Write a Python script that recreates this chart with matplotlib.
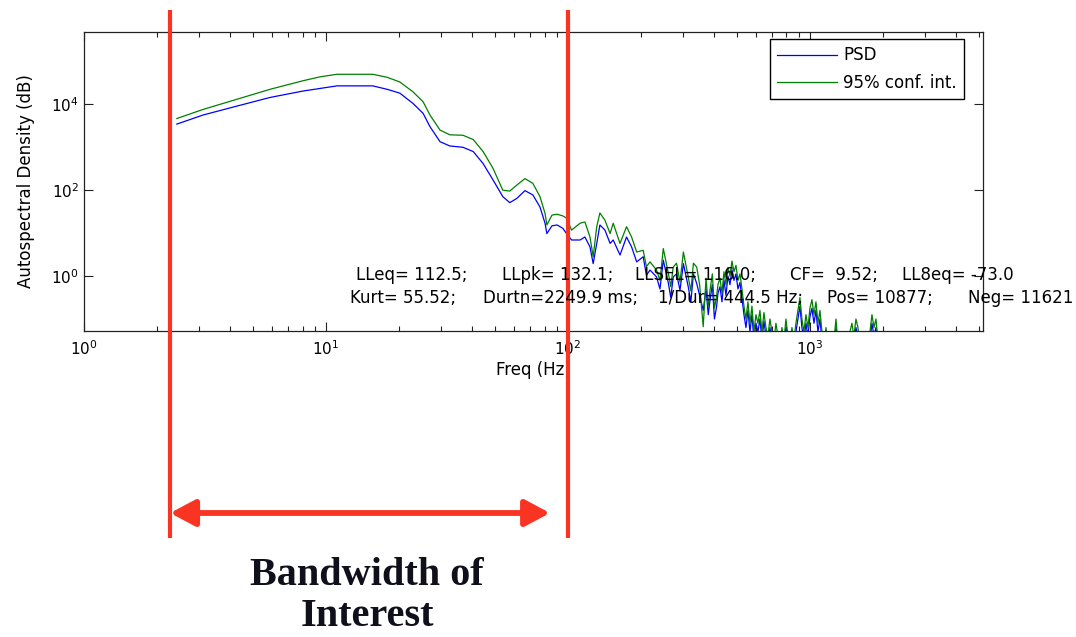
import matplotlib.pyplot as plt
import matplotlib.transforms as mtransforms
from matplotlib.lines import Line2D
from matplotlib.patches import FancyArrowPatch
import numpy as np

# frequency points (Hz)
freq = [2.42, 3.10, 4.29, 5.87, 8.04, 9.44, 11.1, 13.8, 15.6, 17.9,
        20.2, 22.9, 25.2, 26.9, 29.6, 32.5, 36.8, 40.6, 44.6, 49.0,
        53.8, 57.5, 61.5, 66.4, 71.6, 76.6, 80.4, 81.8, 85.9, 90.2,
        95.3, 98.6, 103.5, 112.2, 117.5, 123.3, 127.1, 131.5, 135.5, 142.2,
        149.3, 153.8, 164.1, 174.6, 183.2,
        192.3, 204.6, 211.0, 218.3, 232.3, 240.0, 247.7, 260.0, 266.0, 272.3,
        281.0, 290.4, 299.9, 314.1, 322.0, 330.0, 340.4, 350.0, 362.2, 372.0,
        380.0, 386.4, 395.0, 403.0, 411.1,
        416.8, 424.8, 433.0, 441.3, 449.7, 458.4, 467.1, 476.1, 485.3, 494.6,
        504.1, 513.8, 523.6, 533.7, 543.9, 554.4, 565.0, 575.9, 586.9, 598.2,
        609.7, 621.4, 633.3, 645.5, 657.9, 670.5, 683.4, 696.5, 709.9, 723.5,
        737.4, 751.6, 766.0, 780.7, 795.7, 811.0, 826.6, 842.4, 858.6, 875.1,
        891.9, 909.1, 926.5, 944.3, 962.5, 980.9, 1000, 1019, 1039, 1059,
        1079, 1100, 1121, 1143, 1165, 1187, 1209, 1257, 1281, 1306,
        1356, 1435, 1491, 1520, 1549, 1579, 1609, 1703, 1770, 1804,
        1839, 1874, 1910, 1947]

# PSD level, log10 exponent
psd_exp = [3.54, 3.75, 3.96, 4.16, 4.31, 4.37, 4.43, 4.43, 4.43, 4.35,
           4.26, 4.02, 3.79, 3.48, 3.13, 3.03, 3.00, 2.90, 2.62, 2.24,
           1.85, 1.71, 1.81, 1.99, 1.89, 1.61, 1.23, 0.99, 1.17, 1.19,
           1.11, 0.99, 0.84, 0.84, 0.91, 0.68, 0.29, 0.76, 1.19, 1.07,
           0.76, 0.84, 0.49, 0.91, 0.68,
           0.33, 0.45, 0.02, 0.14, -0.02, -0.30, 0.37, -0.17, -0.50, -0.02,
           0.05, -0.33, 0.29, -0.25, -0.60, 0.05, -0.17, -0.45, -0.80, -0.30,
           -0.90, -0.56, -0.20, -1.00, -0.72,
           -0.40, -0.25, -0.60, -0.10, -0.45, 0.00, -0.20, 0.15, -0.10, 0.05,
           -0.30, -0.15, -0.50, -0.90, -1.20, -0.80, -1.30, -0.90, -1.50, -1.10,
           -1.30, -1.00, -1.50, -1.05, -1.40, -1.60, -1.20, -1.50, -1.70, -1.30,
           -1.60, -1.80, -1.40, -1.70, -1.20, -1.60, -1.80, -1.40, -1.70, -1.30,
           -1.00, -0.70, -1.20, -1.50, -1.10, -1.40, -0.95, -0.75, -1.10, -0.80,
           -1.30, -1.00, -1.50, -1.80, -1.40, -1.80, -2.00, -1.70, -1.20, -1.80,
           -2.00, -1.70, -1.30, -1.60, -1.20, -1.40, -1.80, -2.00, -1.50, -1.10,
           -1.40, -1.20, -1.70, -2.00]

# upper 95% confidence bound, log10 exponent
conf_exp = [3.67, 3.88, 4.12, 4.35, 4.55, 4.64, 4.70, 4.70, 4.70, 4.63,
            4.52, 4.29, 4.06, 3.75, 3.40, 3.29, 3.28, 3.18, 2.90, 2.51,
            2.00, 1.98, 2.12, 2.27, 2.16, 1.85, 1.46, 1.19, 1.42, 1.44,
            1.40, 1.35, 1.07, 1.23, 1.26, 0.91, 0.45, 1.15, 1.47, 1.30,
            0.99, 1.23, 0.76, 1.15, 0.91,
            0.56, 0.60, 0.22, 0.33, 0.14, -0.10, 0.64, 0.06, -0.25, 0.21,
            0.30, -0.14, 0.56, -0.02, -0.35, 0.30, 0.21, -0.20, -1.18, -0.05,
            -0.70, -0.33, 0.05, -0.75, -0.48,
            -0.20, -0.05, -0.40, 0.10, -0.20, 0.20, 0.00, 0.35, 0.10, 0.25,
            -0.10, 0.05, -0.30, -0.70, -1.00, -0.60, -1.10, -0.70, -1.30, -0.90,
            -1.10, -0.80, -1.30, -0.85, -1.20, -1.40, -1.00, -1.30, -1.50, -1.10,
            -1.40, -1.60, -1.20, -1.50, -1.00, -1.40, -1.60, -1.20, -1.50, -1.10,
            -0.80, -0.50, -1.00, -1.30, -0.90, -1.20, -0.75, -0.55, -0.90, -0.60,
            -1.10, -0.80, -1.30, -1.60, -1.20, -1.60, -1.80, -1.50, -1.00, -1.60,
            -1.80, -1.50, -1.10, -1.40, -1.00, -1.20, -1.60, -1.80, -1.30, -0.90,
            -1.20, -1.00, -1.50, -1.80]

stats_row1 = ["LLeq= 112.5;", "LLpk= 132.1;", "LLSEL= 116.0;", "CF=  9.52;", "LL8eq= -73.0"]
stats_row2 = ["Kurt= 55.52;", "Durtn=2249.9 ms;", "1/Dur= 444.5 Hz;", "Pos= 10877;", "Neg= 11621"]
stats_x1 = [356, 502, 635, 790, 902]
stats_x2 = [350, 483, 658, 827, 968]

band_lo, band_hi = 2.27, 100.0

W, H = 1076, 637
fig = plt.figure(figsize=(W / 100, H / 100), dpi=100)
ax = fig.add_axes([84 / W, 1 - 331 / H, 899 / W, 299 / H])

f = np.array(freq)
ax.plot(f, 10 ** np.array(psd_exp), color='#0000ff', lw=0.9, label='PSD')
ax.plot(f, 10 ** np.array(conf_exp), color='#008000', lw=0.9, label='95% conf. int.')

ax.set_xscale('log')
ax.set_yscale('log')
ax.set_xlim(1, 5190)
ax.set_ylim(10 ** -1.28, 10 ** 5.685)
ax.set_yticks([1, 1e2, 1e4])
ax.yaxis.set_minor_locator(plt.NullLocator())
ax.tick_params(which='both', direction='in', top=True, right=True, labelsize=11, color='#222222')
ax.tick_params(which='major', length=6.5, width=0.8)
ax.tick_params(which='minor', length=3.5, width=0.8)
ax.tick_params(axis='x', pad=6)
for s in ax.spines.values():
    s.set_linewidth(0.9)
    s.set_color('#222222')

ax.set_xlabel('Freq (Hz)', fontsize=12, labelpad=2)
ax.set_ylabel('Autospectral Density (dB)', fontsize=12, labelpad=12)

ax.legend(loc='upper right', bbox_to_anchor=(964 / W, 1 - 39 / H), bbox_transform=fig.transFigure,
          fancybox=False, edgecolor='black', framealpha=1, fontsize=12, handlelength=3.6,
          handletextpad=0.35, borderpad=0.45, labelspacing=0.55, borderaxespad=0)

for txt, x in zip(stats_row1, stats_x1):
    fig.text(x / W, 1 - 275 / H, txt, fontsize=12, va='center', ha='left')
for txt, x in zip(stats_row2, stats_x2):
    fig.text(x / W, 1 - 298 / H, txt, fontsize=12, va='center', ha='left')

# bandwidth markers
red = '#fa3422'
blend = mtransforms.blended_transform_factory(ax.transData, fig.transFigure)
for xb in (band_lo, band_hi):
    fig.add_artist(Line2D([xb, xb], [1 - 10 / H, 1 - 538 / H], transform=blend,
                          color=red, lw=3.0, solid_capstyle='butt', clip_on=False))
arrow = FancyArrowPatch((band_lo, 1 - 513 / H), (84.3, 1 - 513 / H), transform=blend,
                        arrowstyle='<|-|>,head_length=15,head_width=8', mutation_scale=1,
                        color=red, lw=4.2, shrinkA=0, shrinkB=0, clip_on=False)
fig.add_artist(arrow)

fig.text(367 / W, 1 - 596 / H, 'Bandwidth of\nInterest', ha='center', va='center',
         fontsize=29, fontweight='bold', family='Liberation Serif', color='#10101c',
         linespacing=1.15)

fig.savefig('out.png', dpi=100)
